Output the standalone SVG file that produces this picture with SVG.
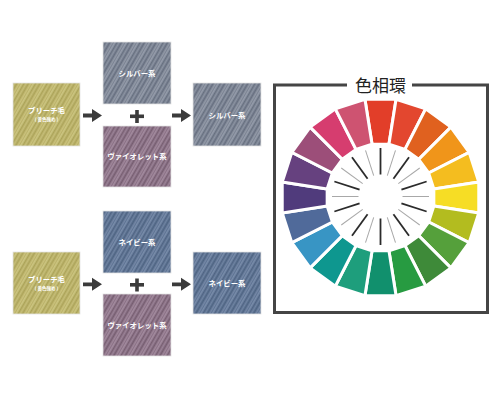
<svg xmlns="http://www.w3.org/2000/svg" xmlns:xlink="http://www.w3.org/1999/xlink" width="500" height="400" viewBox="0 0 500 400">
<style>
.box{stroke:#e4e4e4;stroke-width:0.8}
.lbl{font-family:"Noto Sans CJK JP","Noto Sans",sans-serif;font-weight:bold;fill:#ffffff;font-size:7.4px;text-anchor:middle}
.sm{font-family:"Noto Sans CJK JP","Noto Sans",sans-serif;font-weight:bold;fill:#ffffff;font-size:4.5px;text-anchor:middle}
.arrow{fill:#3b3b3b}
.plus{fill:#3b3b3b}
.seg{stroke:#ffffff;stroke-width:3;stroke-linejoin:miter}
.tkd{stroke:#2b2b2b;stroke-width:1.8}
.tkg{stroke:#a8a8a8;stroke-width:1}
.title{font-family:"Noto Sans CJK JP","Noto Sans",sans-serif;font-size:17px;fill:#222222;text-anchor:middle}
</style>
<defs>
<pattern id="pBleach" width="10" height="10" patternUnits="userSpaceOnUse" patternTransform="rotate(30)">
<rect width="10" height="10" fill="#BBB269"/>
<line x1="0.8" y1="0" x2="0.8" y2="10" stroke="#D6CF90" stroke-width="0.9"/>
<line x1="2.6" y1="0" x2="2.6" y2="10" stroke="#A2994F" stroke-width="0.7"/>
<line x1="4.4" y1="0" x2="4.4" y2="10" stroke="#CFC784" stroke-width="0.6"/>
<line x1="6.3" y1="0" x2="6.3" y2="10" stroke="#A79E55" stroke-width="0.9"/>
<line x1="8.3" y1="0" x2="8.3" y2="10" stroke="#D3CB8A" stroke-width="0.7"/>
</pattern>
<pattern id="pSilver" width="10" height="10" patternUnits="userSpaceOnUse" patternTransform="rotate(30)">
<rect width="10" height="10" fill="#7B8393"/>
<line x1="0.8" y1="0" x2="0.8" y2="10" stroke="#A6ADBA" stroke-width="0.9"/>
<line x1="2.6" y1="0" x2="2.6" y2="10" stroke="#5C6474" stroke-width="0.7"/>
<line x1="4.4" y1="0" x2="4.4" y2="10" stroke="#9AA1AE" stroke-width="0.6"/>
<line x1="6.3" y1="0" x2="6.3" y2="10" stroke="#5F6777" stroke-width="0.9"/>
<line x1="8.3" y1="0" x2="8.3" y2="10" stroke="#A2A9B5" stroke-width="0.7"/>
</pattern>
<pattern id="pViolet" width="10" height="10" patternUnits="userSpaceOnUse" patternTransform="rotate(30)">
<rect width="10" height="10" fill="#8B7186"/>
<line x1="0.8" y1="0" x2="0.8" y2="10" stroke="#B29CAE" stroke-width="0.9"/>
<line x1="2.6" y1="0" x2="2.6" y2="10" stroke="#6B5366" stroke-width="0.7"/>
<line x1="4.4" y1="0" x2="4.4" y2="10" stroke="#A590A2" stroke-width="0.6"/>
<line x1="6.3" y1="0" x2="6.3" y2="10" stroke="#6E5669" stroke-width="0.9"/>
<line x1="8.3" y1="0" x2="8.3" y2="10" stroke="#AE98AA" stroke-width="0.7"/>
</pattern>
<pattern id="pNavy" width="10" height="10" patternUnits="userSpaceOnUse" patternTransform="rotate(30)">
<rect width="10" height="10" fill="#5E7494"/>
<line x1="0.8" y1="0" x2="0.8" y2="10" stroke="#899CB7" stroke-width="0.9"/>
<line x1="2.6" y1="0" x2="2.6" y2="10" stroke="#465A79" stroke-width="0.7"/>
<line x1="4.4" y1="0" x2="4.4" y2="10" stroke="#7D90AC" stroke-width="0.6"/>
<line x1="6.3" y1="0" x2="6.3" y2="10" stroke="#485C7B" stroke-width="0.9"/>
<line x1="8.3" y1="0" x2="8.3" y2="10" stroke="#8597B2" stroke-width="0.7"/>
</pattern>
<polygon id="seg" points="364.935,99.225 396.065,99.225 388.947,144.165 372.053,144.165"/>
<line id="tk" x1="380.5" y1="174.5" x2="380.5" y2="148"/>
</defs>
<rect width="500" height="400" fill="#ffffff"/>

<g id="bleach1">
<rect class="box" x="13" y="83" width="67" height="63" fill="url(#pBleach)"/>
<text class="lbl" x="46.5" y="112.6">ブリーチ毛</text>
<text class="sm" x="46.5" y="121">( 黄色強め )</text>
</g>
<g id="silver1">
<rect class="box" x="103" y="42" width="68" height="62" fill="url(#pSilver)"/>
<text class="lbl" x="137" y="75.6">シルバー系</text>
</g>
<g id="violet1">
<rect class="box" x="103" y="126" width="68" height="61" fill="url(#pViolet)"/>
<text class="lbl" x="137" y="159.3">ヴァイオレット系</text>
</g>
<g id="result1">
<rect class="box" x="193" y="83" width="68" height="63" fill="url(#pSilver)"/>
<text class="lbl" x="227" y="117.6">シルバー系</text>
</g>
<g id="plus1" class="plus">
<rect x="130" y="114.5" width="14" height="3.6"/>
<rect x="135.2" y="110" width="3.6" height="13"/>
</g>

<g id="bleach2">
<rect class="box" x="13" y="252" width="67" height="62" fill="url(#pBleach)"/>
<text class="lbl" x="46.5" y="281.6">ブリーチ毛</text>
<text class="sm" x="46.5" y="290">( 黄色強め )</text>
</g>
<g id="navy2">
<rect class="box" x="103" y="211" width="68" height="62" fill="url(#pNavy)"/>
<text class="lbl" x="137" y="244.6">ネイビー系</text>
</g>
<g id="violet2">
<rect class="box" x="103" y="294" width="68" height="62" fill="url(#pViolet)"/>
<text class="lbl" x="137" y="327.6">ヴァイオレット系</text>
</g>
<g id="result2">
<rect class="box" x="193" y="252" width="68" height="62" fill="url(#pNavy)"/>
<text class="lbl" x="227" y="286.2">ネイビー系</text>
</g>
<g id="plus2" class="plus">
<rect x="130" y="283" width="14" height="3.6"/>
<rect x="135.2" y="278.5" width="3.6" height="13"/>
</g>

<g id="connectors" class="arrow">
<path d="M83,113.6 H92 V109 L102,115.5 L92,122 V117.4 H83 Z"/>
<path d="M172,113.6 H181 V109 L191,115.5 L181,122 V117.4 H172 Z"/>
<path d="M83,282.4 H92 V277.8 L102,284.3 L92,290.8 V286.2 H83 Z"/>
<path d="M172,282.4 H181 V277.8 L191,284.3 L181,290.8 V286.2 H172 Z"/>
</g>

<g id="hue-wheel">
<path d="M347,85 H274.5 V312.5 H487.5 V85 H412" fill="none" stroke="#454545" stroke-width="3"/>
<text class="title" x="380.5" y="91.5">色相環</text>
<g class="seg">
<use xlink:href="#seg" href="#seg" fill="#E23E29" transform="rotate(0 380.5 197.5)"/>
<use xlink:href="#seg" href="#seg" fill="#E3472F" transform="rotate(18 380.5 197.5)"/>
<use xlink:href="#seg" href="#seg" fill="#E0611F" transform="rotate(36 380.5 197.5)"/>
<use xlink:href="#seg" href="#seg" fill="#F0951A" transform="rotate(54 380.5 197.5)"/>
<use xlink:href="#seg" href="#seg" fill="#F4BD1F" transform="rotate(72 380.5 197.5)"/>
<use xlink:href="#seg" href="#seg" fill="#F6DD25" transform="rotate(90 380.5 197.5)"/>
<use xlink:href="#seg" href="#seg" fill="#B3BC1F" transform="rotate(108 380.5 197.5)"/>
<use xlink:href="#seg" href="#seg" fill="#55A03B" transform="rotate(126 380.5 197.5)"/>
<use xlink:href="#seg" href="#seg" fill="#3E8A39" transform="rotate(144 380.5 197.5)"/>
<use xlink:href="#seg" href="#seg" fill="#279B41" transform="rotate(162 380.5 197.5)"/>
<use xlink:href="#seg" href="#seg" fill="#11906D" transform="rotate(180 380.5 197.5)"/>
<use xlink:href="#seg" href="#seg" fill="#1E9E7C" transform="rotate(198 380.5 197.5)"/>
<use xlink:href="#seg" href="#seg" fill="#0E978F" transform="rotate(216 380.5 197.5)"/>
<use xlink:href="#seg" href="#seg" fill="#3895C4" transform="rotate(234 380.5 197.5)"/>
<use xlink:href="#seg" href="#seg" fill="#506A9A" transform="rotate(252 380.5 197.5)"/>
<use xlink:href="#seg" href="#seg" fill="#503B7C" transform="rotate(270 380.5 197.5)"/>
<use xlink:href="#seg" href="#seg" fill="#66417F" transform="rotate(288 380.5 197.5)"/>
<use xlink:href="#seg" href="#seg" fill="#9C4E79" transform="rotate(306 380.5 197.5)"/>
<use xlink:href="#seg" href="#seg" fill="#D63D6F" transform="rotate(324 380.5 197.5)"/>
<use xlink:href="#seg" href="#seg" fill="#CE5371" transform="rotate(342 380.5 197.5)"/>
</g>
<g class="tkd">
<use xlink:href="#tk" href="#tk" transform="rotate(0 380.5 196.5)"/>
<use xlink:href="#tk" href="#tk" transform="rotate(36 380.5 196.5)"/>
<use xlink:href="#tk" href="#tk" transform="rotate(72 380.5 196.5)"/>
<use xlink:href="#tk" href="#tk" transform="rotate(108 380.5 196.5)"/>
<use xlink:href="#tk" href="#tk" transform="rotate(144 380.5 196.5)"/>
<use xlink:href="#tk" href="#tk" transform="rotate(180 380.5 196.5)"/>
<use xlink:href="#tk" href="#tk" transform="rotate(216 380.5 196.5)"/>
<use xlink:href="#tk" href="#tk" transform="rotate(252 380.5 196.5)"/>
<use xlink:href="#tk" href="#tk" transform="rotate(288 380.5 196.5)"/>
<use xlink:href="#tk" href="#tk" transform="rotate(324 380.5 196.5)"/>
</g>
<g class="tkg">
<use xlink:href="#tk" href="#tk" transform="rotate(18 380.5 196.5)"/>
<use xlink:href="#tk" href="#tk" transform="rotate(54 380.5 196.5)"/>
<use xlink:href="#tk" href="#tk" transform="rotate(90 380.5 196.5)"/>
<use xlink:href="#tk" href="#tk" transform="rotate(126 380.5 196.5)"/>
<use xlink:href="#tk" href="#tk" transform="rotate(162 380.5 196.5)"/>
<use xlink:href="#tk" href="#tk" transform="rotate(198 380.5 196.5)"/>
<use xlink:href="#tk" href="#tk" transform="rotate(234 380.5 196.5)"/>
<use xlink:href="#tk" href="#tk" transform="rotate(270 380.5 196.5)"/>
<use xlink:href="#tk" href="#tk" transform="rotate(306 380.5 196.5)"/>
<use xlink:href="#tk" href="#tk" transform="rotate(342 380.5 196.5)"/>
</g>
</g>
</svg>
